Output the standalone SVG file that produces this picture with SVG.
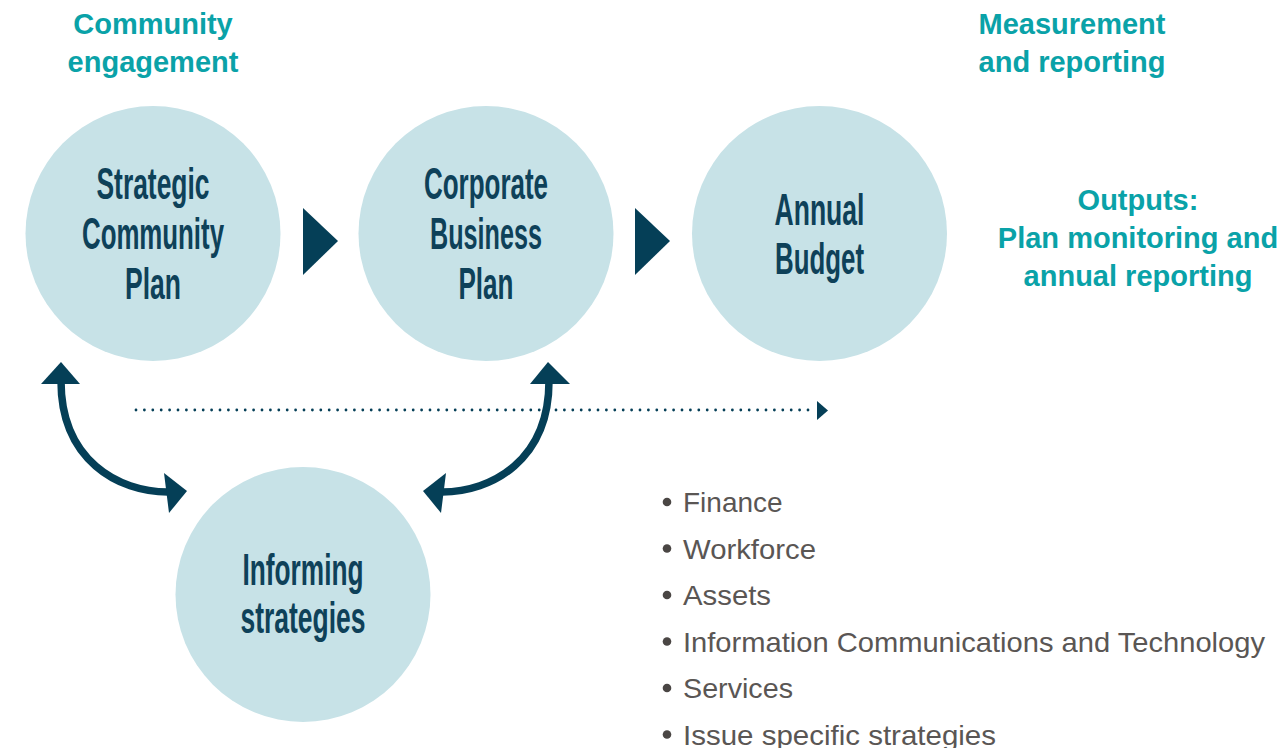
<svg xmlns="http://www.w3.org/2000/svg" width="1281" height="748" viewBox="0 0 1281 748">
  <defs>
    <style>
      .bg { fill: #ffffff; }
      .node { fill: #C7E2E7; }
      .label { font-family: "Liberation Sans", Arial, sans-serif; font-weight: bold; font-size: 45px; fill: #0E4159; text-anchor: middle; }
      .head { font-family: "Liberation Sans", Arial, sans-serif; font-weight: bold; font-size: 29px; fill: #0AA2A8; text-anchor: middle; }
      .item { font-family: "Liberation Sans", Arial, sans-serif; font-size: 28px; fill: #5A5654; }
      .dot { fill: #4A4644; }
      .flow { fill: #053F57; }
      .link { fill: none; stroke: #053F57; stroke-width: 7.5; }
      .dotted { fill: none; stroke: #053F57; stroke-width: 2.8; stroke-linecap: round; stroke-dasharray: 0 8.4; }
    </style>
  </defs>

  <rect class="bg" x="0" y="0" width="1281" height="748"/>

  <!-- headings -->
  <g id="community-engagement">
    <text class="head" x="153" y="34">Community</text>
    <text class="head" x="153" y="72">engagement</text>
  </g>
  <g id="measurement-reporting">
    <text class="head" x="1072" y="34">Measurement</text>
    <text class="head" x="1072" y="72">and reporting</text>
  </g>
  <g id="outputs">
    <text class="head" x="1138" y="210">Outputs:</text>
    <text class="head" x="1138" y="248">Plan monitoring and</text>
    <text class="head" x="1138" y="286">annual reporting</text>
  </g>

  <!-- planning nodes -->
  <g id="strategic-community-plan">
    <circle class="node" cx="153" cy="233.5" r="127.5"/>
    <text class="label" x="153" y="199" textLength="113" lengthAdjust="spacingAndGlyphs">Strategic</text>
    <text class="label" x="153" y="249" textLength="142" lengthAdjust="spacingAndGlyphs">Community</text>
    <text class="label" x="153" y="299" textLength="56" lengthAdjust="spacingAndGlyphs">Plan</text>
  </g>
  <g id="corporate-business-plan">
    <circle class="node" cx="486" cy="233.5" r="127.5"/>
    <text class="label" x="486" y="199" textLength="124" lengthAdjust="spacingAndGlyphs">Corporate</text>
    <text class="label" x="486" y="249" textLength="112" lengthAdjust="spacingAndGlyphs">Business</text>
    <text class="label" x="486" y="299" textLength="55" lengthAdjust="spacingAndGlyphs">Plan</text>
  </g>
  <g id="annual-budget">
    <circle class="node" cx="819.5" cy="233.5" r="127.5"/>
    <text class="label" x="819.5" y="225" textLength="90" lengthAdjust="spacingAndGlyphs">Annual</text>
    <text class="label" x="819.5" y="274" textLength="89" lengthAdjust="spacingAndGlyphs">Budget</text>
  </g>
  <g id="informing-strategies">
    <circle class="node" cx="303" cy="594.5" r="127.5"/>
    <text class="label" x="303" y="585" textLength="121" lengthAdjust="spacingAndGlyphs">Informing</text>
    <text class="label" x="303" y="633" textLength="125" lengthAdjust="spacingAndGlyphs">strategies</text>
  </g>

  <!-- connectors -->
  <g id="connectors">
    <polygon class="flow" points="303,208 338,241 303,275"/>
    <polygon class="flow" points="635,208 670,241 635,275"/>

    <path class="dotted" d="M 136 410 L 810 410"/>
    <polygon class="flow" points="817,401 828,410.5 817,420"/>

    <path class="link" d="M 61 381 C 61 460, 118 492, 168 492"/>
    <polygon class="flow" points="61,362 41,384 80,384"/>
    <polygon class="flow" points="187,491 164,473 169,513"/>

    <path class="link" d="M 549 381 C 549 460, 492 492, 442 492"/>
    <polygon class="flow" points="548,362 530,384 570,384"/>
    <polygon class="flow" points="423,491 446,473 441,513"/>
  </g>

  <!-- informing strategy list -->
  <g id="strategy-list">
    <circle class="dot" cx="667" cy="502" r="4.3"/>
    <text class="item" x="683" y="512">Finance</text>
    <circle class="dot" cx="667" cy="548.5" r="4.3"/>
    <text class="item" x="683" y="558.5" textLength="133" lengthAdjust="spacingAndGlyphs">Workforce</text>
    <circle class="dot" cx="667" cy="595" r="4.3"/>
    <text class="item" x="683" y="605" textLength="88" lengthAdjust="spacingAndGlyphs">Assets</text>
    <circle class="dot" cx="667" cy="641.5" r="4.3"/>
    <text class="item" x="683" y="651.5" textLength="582" lengthAdjust="spacingAndGlyphs">Information Communications and Technology</text>
    <circle class="dot" cx="667" cy="688" r="4.3"/>
    <text class="item" x="683" y="698" textLength="110" lengthAdjust="spacingAndGlyphs">Services</text>
    <circle class="dot" cx="667" cy="734.5" r="4.3"/>
    <text class="item" x="683" y="744.5" textLength="313" lengthAdjust="spacingAndGlyphs">Issue specific strategies</text>
  </g>
</svg>
